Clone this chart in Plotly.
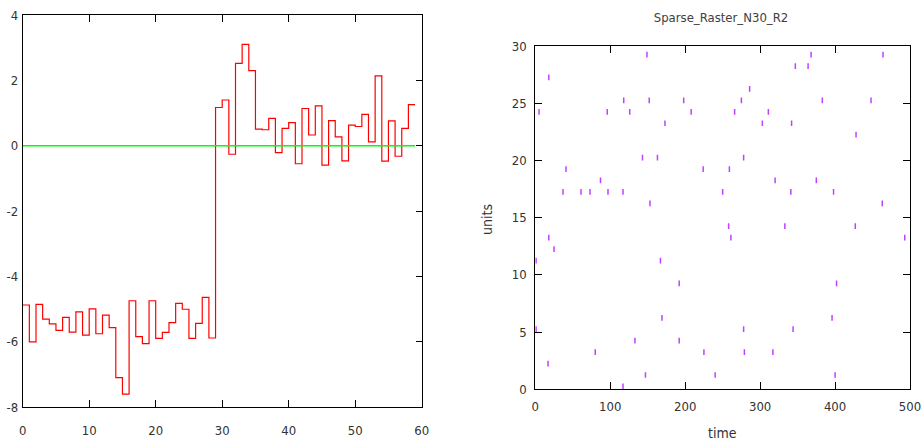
import plotly.graph_objects as go

# ---- Left panel: step series ----
step_x = list(range(60))
step_values = [-4.87, -6.00, -4.85, -5.30, -5.45, -5.65, -5.25, -5.70, -5.08, -5.79,
               -4.99, -5.75, -5.18, -5.56, -7.09, -7.60, -4.74, -5.84, -6.05, -4.74,
               -5.89, -5.71, -5.41, -4.82, -5.00, -5.89, -5.43, -4.64, -5.88,
               1.17, 1.40, -0.26, 2.52, 3.10, 2.30, 0.51, 0.49, 0.84, -0.21,
               0.53, 0.71, -0.55, 1.14, 0.33, 1.22, -0.59, 0.77, 0.27, -0.46,
               0.63, 0.59, 0.96, 0.12, 2.14, -0.47, 0.76, -0.32, 0.53, 1.26]
zero_x = [0, 59]
zero_y = [0, 0]

# ---- Right panel: raster spikes ----
spike_times = [5, 18, 41, 37, 61, 73, 87, 96, 97, 117, 118, 126, 143, 149, 152, 153, 163, 173, 198, 208, 224,
               250, 259, 266, 275, 278, 286, 303, 311, 320, 341, 342, 347, 364, 368, 375, 383, 398, 428, 448, 463, 464,
               1, 18, 25, 1, 17, 80, 117, 133, 147, 167, 169, 192, 192, 225,
               240, 258, 261, 278, 279, 317, 333, 344, 396, 400, 402, 427, 493]
spike_units = [24, 27, 19, 17, 17, 17, 18, 24, 17, 17, 25, 24, 20, 29, 25, 16, 20, 23, 25, 24, 19,
               17, 19, 24, 25, 20, 26, 23, 24, 18, 17, 23, 28, 28, 29, 18, 25, 17, 22, 25, 16, 29,
               11, 13, 12, 5, 2, 3, 0, 4, 1, 11, 6, 9, 4, 3,
               1, 14, 13, 5, 3, 3, 14, 5, 6, 1, 9, 14, 13]
spike_height = 0.5

left_xticks = [0, 10, 20, 30, 40, 50, 60]
left_yticks = [-8, -6, -4, -2, 0, 2, 4]
left_yticktext = ["-8", "-6", "-4", "-2", "0", "2", "4"]
right_xticks = [0, 100, 200, 300, 400, 500]
right_yticks = [0, 5, 10, 15, 20, 25, 30]

FONT = "Liberation Sans Narrow, DejaVu Sans Condensed, Liberation Sans, sans-serif"
W, H = 922, 441

fig = go.Figure()

step_y = step_values + [step_values[-1]]
fig.add_trace(go.Scatter(x=step_x, y=step_y, mode="lines", line=dict(shape="hv", color="#ff0000", width=1.2),
                         xaxis="x", yaxis="y", showlegend=False, hoverinfo="skip"))
fig.add_trace(go.Scatter(x=zero_x, y=zero_y, mode="lines", line=dict(color="#00ff00", width=1.5),
                         xaxis="x", yaxis="y3", showlegend=False, hoverinfo="skip"))

rx, ry = [], []
for t, u in zip(spike_times, spike_units):
    rx += [t, t, None]
    ry += [u, u + spike_height, None]
fig.add_trace(go.Scatter(x=rx, y=ry, mode="lines", line=dict(color="#c040ff", width=1.5),
                         xaxis="x2", yaxis="y2", showlegend=False, hoverinfo="skip"))

tickfont = dict(family=FONT, size=13, color="#333333")
ax_common = dict(showgrid=False, zeroline=False, showline=True, linecolor="black", linewidth=1,
                 ticks="inside", tickcolor="black", ticklen=7, tickfont=tickfont, automargin=False)

fig.update_layout(
    width=W, height=H, margin=dict(l=0, r=0, t=0, b=0, pad=0, autoexpand=False),
    paper_bgcolor="white", plot_bgcolor="white",
    xaxis=dict(domain=[22.7 / W, 421.7 / W], range=[0, 60], tickvals=left_xticks, mirror="ticks",
               anchor="y", ticklabelstandoff=11, **ax_common),
    yaxis=dict(domain=[1 - 407.3 / H, 1 - 15 / H], range=[-8, 4], tickvals=left_yticks,
               ticktext=left_yticktext,
               anchor="x", showgrid=False, zeroline=False, showline=True, linecolor="black",
               linewidth=1, ticks="", tickfont=tickfont, mirror=True, ticklabelstandoff=1,
               automargin=False),
    yaxis3=dict(overlaying="y", side="right", anchor="x", range=[-8, 4], tickvals=left_yticks,
                showticklabels=False, showgrid=False, zeroline=False, showline=False,
                ticks="inside", tickcolor="black", ticklen=6, automargin=False),
    xaxis2=dict(domain=[535.3 / W, 910 / W], range=[0, 500], tickvals=right_xticks, mirror="ticks",
                anchor="y2", ticklabelstandoff=5, **ax_common),
    yaxis2=dict(domain=[1 - 389.3 / H, 1 - 46 / H], range=[0, 30], tickvals=right_yticks, mirror="ticks",
                anchor="x2", ticklabelstandoff=5, **ax_common),
    title=dict(text="Sparse_Raster_N30_R2", x=721 / W, y=1 - 17 / H, xanchor="center", yanchor="middle",
               font=dict(family=FONT, size=13, color="#404040"), automargin=False),
    annotations=[
        dict(text="time", xref="paper", yref="paper", x=722 / W, y=1 - 433 / H, showarrow=False,
             xanchor="center", yanchor="middle", font=dict(family=FONT, size=14, color="#333333")),
        dict(text="units", xref="paper", yref="paper", x=487 / W, y=1 - 220 / H, showarrow=False,
             textangle=-90, xanchor="center", yanchor="middle",
             font=dict(family=FONT, size=14, color="#333333")),
    ],
)

fig.write_html("out.html", config={"displayModeBar": False},
               post_script="document.body.style.margin='0';document.body.style.overflow='hidden';")
